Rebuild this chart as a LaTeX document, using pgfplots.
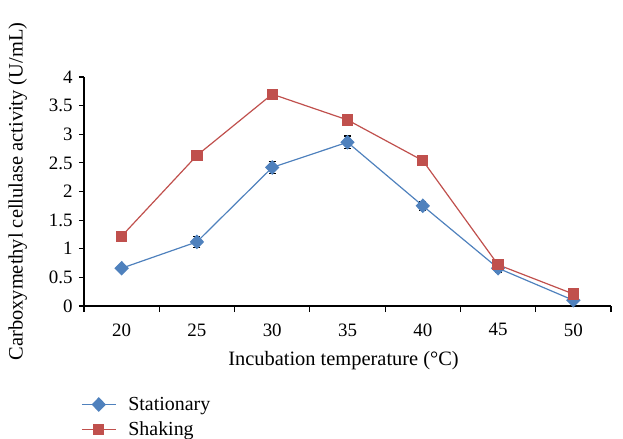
\documentclass[border=0pt]{standalone}
\usepackage{fontspec}
\setmainfont{Liberation Serif}
\usepackage{pgfplots}
\pgfplotsset{compat=1.18}
\definecolor{sblue}{HTML}{4F81BD}
\definecolor{sred}{HTML}{C0504D}
\begin{document}
\begin{tikzpicture}
\path[use as bounding box] (-84bp,-133bp) rectangle (539bp,306bp);
\begin{axis}[
 scale only axis, width=527bp, height=229bp,
 xmin=17.5, xmax=52.5, ymin=0, ymax=4,
 axis lines*=left, axis line style={line width=1.4bp, -},
 xtick={20,25,...,50}, minor xtick={17.5,22.5,...,52.5},
 major x tick style={draw=none},
 ytick={0,0.5,...,4},
 tick align=outside, major tick length=5bp, minor tick length=6bp,
 tick style={black, line width=1.2bp},
 /pgf/number format/assume math mode=true,
 xticklabel={\pgfmathprintnumber[assume math mode=true]{\tick}},
 yticklabel={\pgfmathprintnumber[assume math mode=true,fixed]{\tick}},
 tick label style={font=\fontsize{19}{22}\selectfont},
 label style={font=\fontsize{20.5}{24}\selectfont},
 yticklabel style={xshift=-3bp},
 xticklabel style={yshift=-9bp},
 xlabel={Incubation temperature (\textdegree C)},
 ylabel={Carboxymethyl cellulase activity (U/mL)},
 xlabel style={yshift=-8bp, xshift=-4bp},
 ylabel style={yshift=15bp},
 legend style={at={(0,0)}, anchor=north west, xshift=-6bp, yshift=-87bp, draw=none, fill=none, row sep=6bp, column sep=10bp, font=\fontsize{20}{24}\selectfont},
 legend cell align=left,
 legend image code/.code={\draw[mark repeat=2,mark phase=2,#1] plot coordinates {(0bp,0bp) (17bp,0bp) (34bp,0bp)};},
]
\addplot[sblue, line width=1.2bp, mark=diamond*, mark size=6.5bp, mark options={xscale=1.3},
 error bars/.cd, y dir=both, y explicit, error bar style={black, line width=1.3bp}, error mark options={black, rotate=90, mark size=3.5bp, line width=1.3bp}]
 coordinates {(20,0.66) +- (0,0.05) (25,1.12) +- (0,0.1) (30,2.42) +- (0,0.1) (35,2.86) +- (0,0.11) (40,1.75) +- (0,0.08) (45,0.66) +- (0,0.07) (50,0.10) +- (0,0.1)};
\addlegendentry{Stationary}
\addplot[sred, line width=1.2bp, mark=square*, mark size=5bp,
 error bars/.cd, y dir=both, y explicit, error bar style={black, line width=1.3bp}, error mark options={black, rotate=90, mark size=3.5bp, line width=1.3bp}]
 coordinates {(20,1.22) +- (0,0.04) (25,2.63) +- (0,0.09) (30,3.70) +- (0,0.08) (35,3.25) +- (0,0.1) (40,2.54) +- (0,0.07) (45,0.72) +- (0,0.05) (50,0.21) +- (0,0.05)};
\addlegendentry{Shaking}
\end{axis}
\end{tikzpicture}
\end{document}
